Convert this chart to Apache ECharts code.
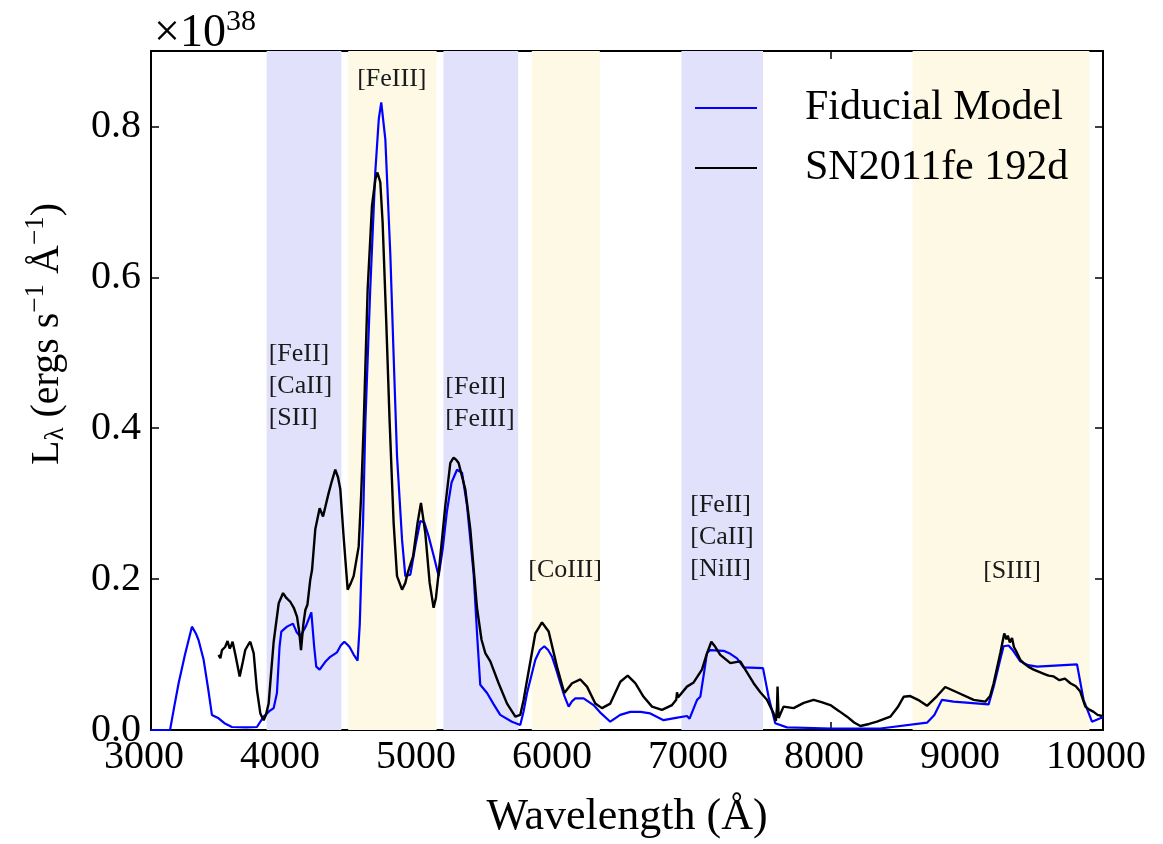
<!DOCTYPE html>
<html>
<head>
<meta charset="utf-8">
<script src="https://cdn.jsdelivr.net/npm/echarts@6/dist/echarts.min.js"></script>
<style>
  html, body { margin: 0; padding: 0; background: #ffffff; }
  #chart { width: 1163px; height: 844px; }
</style>
</head>
<body>
<div id="chart"></div>
<script>
// Nebular-phase spectrum of SN 2011fe at 192 days vs. the fiducial model.
// Luminosity in units of 1e38 erg s^-1 Å^-1.

const modelWave = [3000, 3140, 3170, 3203, 3250, 3301, 3330, 3350, 3387, 3420, 3448, 3497, 3540, 3595, 3700, 3779, 3828, 3870, 3902, 3926, 3945, 3958, 4000, 4044, 4070, 4098, 4140, 4179, 4200, 4215, 4240, 4280, 4318, 4368, 4395, 4421, 4445, 4460, 4490, 4519, 4535, 4545, 4560, 4576, 4612, 4649, 4675, 4693, 4705, 4723, 4760, 4784, 4809, 4846, 4870, 4907, 4945, 4980, 5010, 5041, 5080, 5115, 5145, 5176, 5210, 5250, 5287, 5324, 5372, 5400, 5421, 5471, 5520, 5568, 5654, 5715, 5740, 5765, 5826, 5860, 5892, 5920, 5949, 5980, 6010, 6040, 6071, 6095, 6120, 6181, 6254, 6310, 6377, 6450, 6524, 6600, 6671, 6769, 6860, 6941, 6960, 7015, 7039, 7070, 7088, 7113, 7210, 7260, 7309, 7357, 7500, 7541, 7590, 7676, 8000, 8363, 8706, 8760, 8816, 8901, 9159, 9196, 9240, 9269, 9306, 9340, 9392, 9450, 9515, 9809, 9857, 9919, 9980, 10000];
const modelLum = [0, 0, 0.03, 0.062, 0.1, 0.137, 0.128, 0.119, 0.093, 0.055, 0.02, 0.0155, 0.009, 0.004, 0.0035, 0.004, 0.0177, 0.025, 0.029, 0.049, 0.11, 0.1305, 0.137, 0.141, 0.13, 0.124, 0.138, 0.156, 0.11, 0.084, 0.08, 0.09, 0.097, 0.103, 0.112, 0.117, 0.113, 0.11, 0.1, 0.092, 0.14, 0.2, 0.28, 0.407, 0.584, 0.739, 0.81, 0.832, 0.83, 0.783, 0.629, 0.496, 0.363, 0.252, 0.204, 0.206, 0.245, 0.277, 0.275, 0.257, 0.23, 0.204, 0.24, 0.29, 0.328, 0.345, 0.341, 0.297, 0.208, 0.12, 0.06, 0.049, 0.034, 0.02, 0.011, 0.0066, 0.025, 0.049, 0.093, 0.106, 0.111, 0.106, 0.097, 0.08, 0.062, 0.045, 0.031, 0.038, 0.042, 0.042, 0.033, 0.022, 0.011, 0.02, 0.024, 0.024, 0.022, 0.013, 0.016, 0.0186, 0.015, 0.04, 0.044, 0.08, 0.102, 0.106, 0.105, 0.101, 0.095, 0.083, 0.082, 0.044, 0.009, 0.0035, 0.002, 0.002, 0.0097, 0.02, 0.04, 0.0376, 0.034, 0.0575, 0.09, 0.111, 0.112, 0.105, 0.091, 0.086, 0.084, 0.087, 0.04, 0.011, 0.0155, 0.017];

const obsWave = [3497, 3510, 3522, 3545, 3563, 3578, 3588, 3600, 3620, 3652, 3675, 3693, 3715, 3730, 3755, 3779, 3804, 3828, 3845, 3865, 3885, 3902, 3939, 3971, 3995, 4024, 4050, 4074, 4090, 4103, 4120, 4135, 4150, 4171, 4184, 4208, 4240, 4265, 4306, 4330, 4355, 4375, 4392, 4416, 4446, 4470, 4490, 4527, 4545, 4563, 4593, 4625, 4650, 4665, 4686, 4703, 4730, 4755, 4784, 4809, 4846, 4870, 4887, 4927, 4960, 4985, 5017, 5049, 5078, 5095, 5115, 5164, 5201, 5225, 5245, 5262, 5311, 5348, 5397, 5430, 5458, 5495, 5556, 5618, 5679, 5715, 5740, 5765, 5826, 5875, 5924, 5985, 6039, 6096, 6157, 6206, 6267, 6316, 6377, 6451, 6505, 6561, 6622, 6684, 6757, 6831, 6862, 6868, 6875, 6941, 6990, 7051, 7085, 7120, 7150, 7186, 7260, 7300, 7333, 7380, 7431, 7480, 7529, 7578, 7595, 7603, 7607, 7615, 7651, 7725, 7800, 7872, 7930, 7995, 8060, 8118, 8170, 8216, 8280, 8338, 8436, 8490, 8534, 8583, 8640, 8706, 8780, 8840, 8926, 9049, 9135, 9170, 9196, 9245, 9274, 9290, 9300, 9315, 9331, 9345, 9360, 9392, 9420, 9450, 9490, 9530, 9570, 9600, 9637, 9680, 9720, 9760, 9800, 9833, 9870, 9900, 9931, 9960, 9993];
const obsLum = [0.0996, 0.095, 0.106, 0.11, 0.118, 0.108, 0.111, 0.117, 0.1, 0.071, 0.09, 0.106, 0.113, 0.117, 0.102, 0.053, 0.022, 0.013, 0.02, 0.035, 0.08, 0.117, 0.168, 0.1815, 0.175, 0.17, 0.162, 0.15, 0.13, 0.106, 0.14, 0.159, 0.166, 0.199, 0.212, 0.266, 0.294, 0.283, 0.314, 0.33, 0.345, 0.335, 0.319, 0.257, 0.186, 0.195, 0.204, 0.243, 0.31, 0.4, 0.584, 0.695, 0.73, 0.739, 0.726, 0.673, 0.54, 0.407, 0.2745, 0.204, 0.186, 0.195, 0.208, 0.23, 0.2745, 0.301, 0.261, 0.195, 0.162, 0.175, 0.208, 0.297, 0.354, 0.361, 0.358, 0.354, 0.319, 0.266, 0.162, 0.12, 0.102, 0.091, 0.062, 0.035, 0.0177, 0.02, 0.04, 0.066, 0.128, 0.1425, 0.1305, 0.084, 0.049, 0.062, 0.067, 0.0575, 0.035, 0.029, 0.035, 0.064, 0.072, 0.062, 0.044, 0.031, 0.0266, 0.033, 0.04, 0.05, 0.043, 0.0575, 0.063, 0.08, 0.1, 0.117, 0.11, 0.0996, 0.0886, 0.09, 0.091, 0.077, 0.062, 0.05, 0.04, 0.022, 0.012, 0.03, 0.0575, 0.016, 0.031, 0.029, 0.036, 0.04, 0.037, 0.033, 0.025, 0.0177, 0.01, 0.0053, 0.008, 0.011, 0.0177, 0.03, 0.044, 0.045, 0.04, 0.032, 0.045, 0.057, 0.05, 0.04, 0.0376, 0.045, 0.062, 0.102, 0.128, 0.12, 0.125, 0.116, 0.122, 0.11, 0.105, 0.093, 0.088, 0.084, 0.08, 0.077, 0.074, 0.072, 0.071, 0.066, 0.068, 0.062, 0.058, 0.051, 0.031, 0.027, 0.024, 0.02, 0.0186];

// Shaded line-identification windows (Å)
const bandStart = [3850, 4450, 5150, 5800, 6900, 8600];
const bandEnd   = [4400, 5100, 5700, 6300, 7500, 9900];
const bandKind  = ['fe2', 'fe3', 'fe2', 'co3', 'fe2', 's3'];

// Ion labels: wavelength anchor, luminosity anchor, text, alignment
const ionWave  = [4771, 3865, 5164, 5774, 6965, 9331];
const ionLum   = [0.862, 0.4555, 0.4336, 0.2125, 0.255, 0.210];
const ionText  = ['[FeIII]', '[FeII]\n[CaII]\n[SII]', '[FeII]\n[FeIII]', '[CoIII]', '[FeII]\n[CaII]\n[NiII]', '[SIII]'];
const ionAlign = ['center', 'left', 'left', 'left', 'left', 'center'];

const xTicks = { min: 3000, max: 10000, step: 1000 };
const yTicks = { min: 0, max: 0.9, step: 0.2 };

const SERIF = '"Liberation Serif", "DejaVu Serif", serif';
const bandColor = { fe2: '#e1e1fb', fe3: '#fdf9e5', co3: '#fdf9e5', s3: '#fdf9e5' };

const zip = (xs, ys) => xs.map((x, i) => [x, ys[i]]);

const chart = echarts.init(document.getElementById('chart'), null, { renderer: 'canvas' });

const axisCommon = {
  axisLine: { show: true, onZero: false, lineStyle: { color: '#000', width: 2 } },
  axisTick: { show: true, inside: true, length: 8, lineStyle: { color: '#000', width: 1.5 } },
  splitLine: { show: false }
};

const option = {
  backgroundColor: '#ffffff',
  animation: false,
  grid: { left: 151, right: 60, top: 51, bottom: 114, containLabel: false },
  xAxis: [
    Object.assign({
      type: 'value', position: 'bottom',
      min: xTicks.min, max: xTicks.max, interval: xTicks.step,
      name: 'Wavelength (Å)', nameLocation: 'middle', nameGap: 65,
      nameTextStyle: { fontFamily: SERIF, fontSize: 44, color: '#000' },
      axisLabel: {
        fontFamily: SERIF, fontSize: 40, color: '#000', margin: 7,
        padding: [0, 14, 0, 0],
        formatter: v => String(v)
      }
    }, axisCommon),
    Object.assign({
      type: 'value', position: 'top',
      min: xTicks.min, max: xTicks.max, interval: xTicks.step,
      axisLabel: { show: false }
    }, axisCommon)
  ],
  yAxis: [
    Object.assign({
      type: 'value', position: 'left',
      min: yTicks.min, max: yTicks.max, interval: yTicks.step,
      axisLabel: {
        fontFamily: SERIF, fontSize: 40, color: '#000', margin: 10,
        showMaxLabel: false,
        formatter: v => v.toFixed(1)
      }
    }, axisCommon),
    Object.assign({
      type: 'value', position: 'right',
      min: yTicks.min, max: yTicks.max, interval: yTicks.step,
      axisLabel: { show: false }
    }, axisCommon)
  ],
  legend: {
    orient: 'vertical',
    left: 695, top: 87,
    padding: 0,
    icon: 'rect',
    itemWidth: 62, itemHeight: 2, itemGap: 18,
    textStyle: { fontFamily: SERIF, fontSize: 42, color: '#000', lineHeight: 42, padding: [0, 0, 0, 43] },
    data: ['Fiducial Model', 'SN2011fe 192d']
  },
  series: [
    {
      name: 'Fiducial Model',
      type: 'line',
      xAxisIndex: 0, yAxisIndex: 0,
      data: zip(modelWave, modelLum),
      showSymbol: false, symbol: 'none',
      smooth: false,
      lineStyle: { color: '#0000ff', width: 2.2 },
      itemStyle: { color: '#0000ff' },
      z: 3,
      markArea: {
        silent: true,
        data: bandStart.map((s, i) => [
          { xAxis: s, itemStyle: { color: bandColor[bandKind[i]] } },
          { xAxis: bandEnd[i] }
        ])
      }
    },
    {
      name: 'SN2011fe 192d',
      type: 'line',
      xAxisIndex: 0, yAxisIndex: 0,
      data: zip(obsWave, obsLum),
      showSymbol: false, symbol: 'none',
      lineStyle: { color: '#000000', width: 2.4 },
      itemStyle: { color: '#000000' },
      z: 4
    },
    {
      name: 'ions',
      type: 'scatter',
      xAxisIndex: 0, yAxisIndex: 0,
      symbolSize: 0,
      silent: true,
      z: 5,
      itemStyle: { opacity: 1 },
      data: ionWave.map((w, i) => ({
        value: [w, ionLum[i]],
        label: {
          show: true,
          position: ionAlign[i] === 'left' ? 'right' : 'inside',
          distance: 0,
          formatter: ionText[i],
          fontFamily: SERIF, fontSize: 26, lineHeight: 32, color: '#1a1a1a', opacity: 1,
          align: ionAlign[i]
        }
      }))
    }
  ],
  graphic: [
    {
      type: 'text',
      left: 154, top: 7,
      style: {
        text: '{m|×10}{s|38}',
        rich: {
          m: { fontFamily: SERIF, fontSize: 46, fill: '#000', verticalAlign: 'bottom', lineHeight: 50 },
          s: { fontFamily: SERIF, fontSize: 30, fill: '#000', verticalAlign: 'top', lineHeight: 50 }
        }
      }
    },
    {
      type: 'text',
      x: 47, y: 334,
      rotation: Math.PI / 2,
      style: {
        text: '{m|L}{d|λ}{m| (ergs s}{u|−1}{m| Å}{u|−1}{m|)}',
        align: 'center', verticalAlign: 'middle',
        rich: {
          m: { fontFamily: SERIF, fontSize: 40, fill: '#000', lineHeight: 60 },
          d: { fontFamily: SERIF, fontSize: 27, fill: '#000', padding: [18, 0, 0, 0], lineHeight: 60 },
          u: { fontFamily: SERIF, fontSize: 27, fill: '#000', padding: [0, 0, 22, 0], lineHeight: 60 }
        }
      }
    }
  ]
};

chart.setOption(option);
</script>
</body>
</html>
